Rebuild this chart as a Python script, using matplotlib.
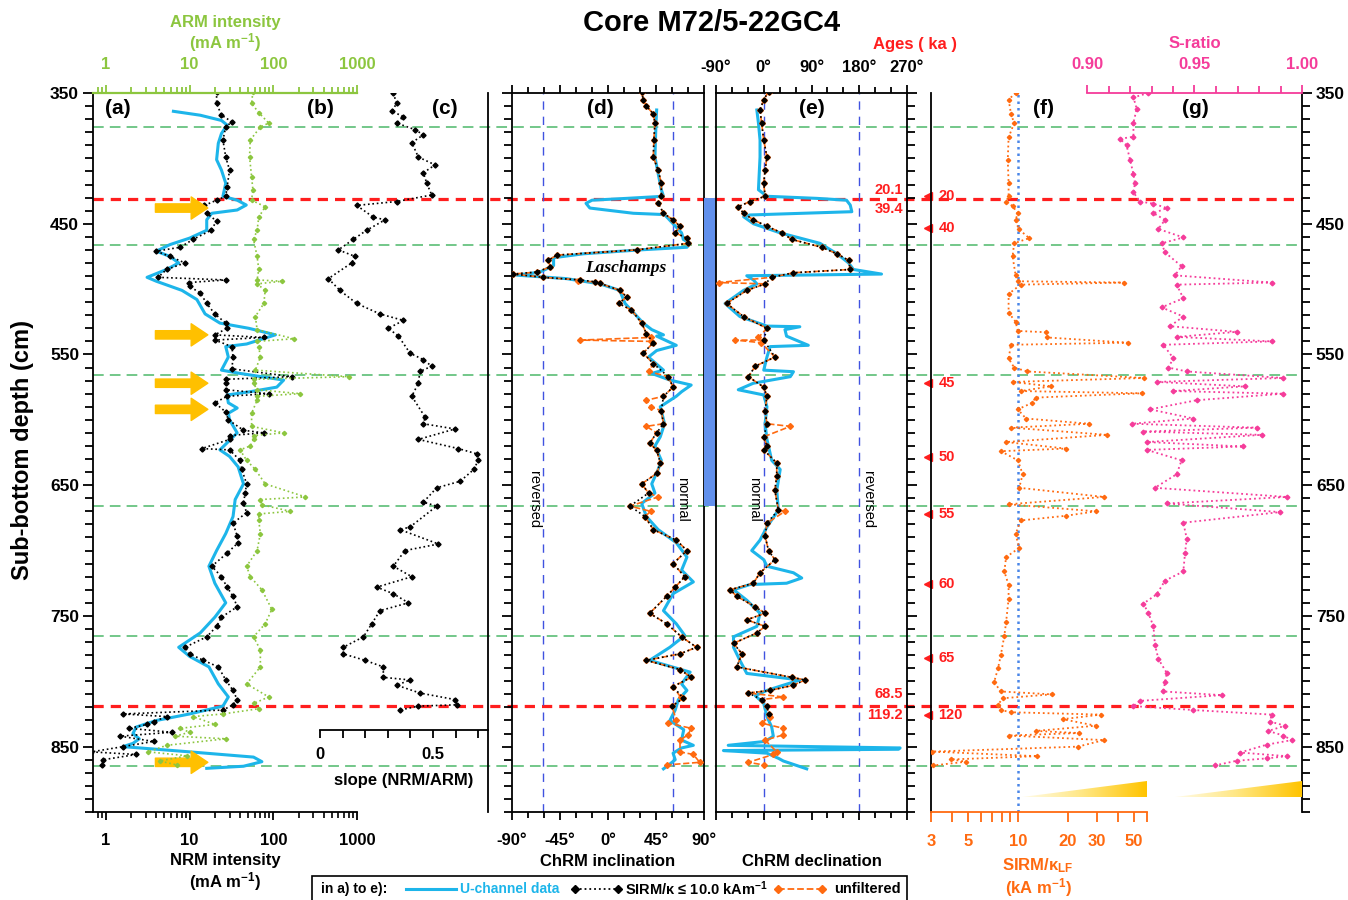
import numpy as np
import matplotlib
matplotlib.use('Agg')
import matplotlib.pyplot as plt
from matplotlib import transforms
from matplotlib.patches import Rectangle, Polygon
from matplotlib.lines import Line2D
from matplotlib.ticker import NullFormatter
from matplotlib.colors import LinearSegmentedColormap

plt.rcParams['font.family'] = ['Liberation Sans', 'DejaVu Sans']
plt.rcParams['font.weight'] = 'bold'
plt.rcParams['mathtext.fontset'] = 'custom'
plt.rcParams['mathtext.rm'] = 'Liberation Sans:bold'
plt.rcParams['mathtext.bf'] = 'Liberation Sans:bold'
plt.rcParams['mathtext.it'] = 'Liberation Sans:bold:italic'
plt.rcParams['mathtext.default'] = 'bf'

# ---- data (depth in cm) ----
# (a) NRM intensity, discrete samples (mA/m)
nrm_depth = [349, 358, 367, 372, 376, 386, 399, 409, 422, 429, 432, 436, 442, 448, 455, 462, 468, 471, 475, 480,
             485, 491, 493, 495, 498, 503, 511, 519, 526, 530, 535, 537, 539, 544, 552, 561, 567, 569, 572, 577,
             580, 582, 587, 594, 600, 608, 610, 612, 615, 622, 623, 631, 638, 649, 656, 664, 671, 679, 689, 694,
             702, 712, 720, 728, 735, 743, 751, 758, 766, 774, 779, 784, 789, 799, 807, 814, 818, 822, 825, 827,
             831, 833, 836, 839, 842, 846, 850, 854, 856, 860, 864]
nrm_val = [21, 21, 24, 32, 27, 25, 27, 30, 28, 27, 21, 15, 16, 21, 18, 11, 7.7, 4.0, 5.8, 8.8,
           5.3, 4.2, 27, 9.7, 10, 13.4, 16, 20, 27, 28, 20, 77, 20, 32, 33, 32, 167, 27, 27, 27,
           88, 28, 20, 27, 29, 44, 77, 30, 30, 14, 30, 40, 42, 48, 46, 44, 48, 33, 37, 38,
           28, 18.4, 24, 28, 33, 37, 24, 21, 16, 8.8, 10, 14.6, 22, 27, 33, 37, 33, 25, 1.6, 5.3,
           3.7, 3.1, 1.9, 6.1, 1.47, 3.7, 1.6, 0.67, 2.3, 0.93, 0.89]

# (a) NRM intensity, u-channel
uch_nrm_depth = [364, 367, 371, 374.5, 381, 388.5, 401, 409, 419, 429, 432, 435.7, 439.5, 442, 447, 455, 461, 466,
                 471, 475, 480, 485, 491, 494, 501, 508, 519, 526, 530, 535, 542, 544, 552, 562, 564.5, 569.6,
                 575, 578.5, 581, 587, 591, 595, 600, 610, 623, 628, 636, 649, 661, 674, 687, 700, 712, 725, 740,
                 751, 763, 774, 781, 789, 802, 812, 819, 825, 830, 835, 840, 844, 847.5, 850, 854, 858, 861.5,
                 865, 866.6]
uch_nrm = [6.4, 13.4, 24, 28, 24, 22, 21, 24, 27, 25, 37, 47.5, 37, 18.4, 16, 16, 10, 5.8,
           4.0, 5.8, 7.4, 5.3, 3.1, 4.0, 8.1, 12.2, 15.3, 23, 51, 106, 48, 27, 29, 24, 40, 133,
           110, 53, 28, 29, 37, 29, 30, 37, 23, 30, 38, 44, 35, 33, 27, 21, 17, 20, 27,
           20, 13.4, 7.4, 10, 17, 22, 29, 25, 10, 4, 2.3, 2.1, 2.5, 2.1, 1.6, 10, 58, 73,
           44, 16]

# (b) ARM intensity (mA/m)
arm_depth = [349, 358, 365, 373, 376, 386, 399, 414, 424, 432, 437, 445, 455, 462, 475, 485, 493, 494, 496, 501,
             511, 521, 531, 538, 540, 544, 552, 562, 567, 569, 572, 577, 580, 582, 585, 595, 605, 610, 612, 615,
             620, 623, 631, 638, 649, 659, 661, 665, 670, 672, 677, 687, 700, 712, 720, 730, 745, 756, 766, 776,
             789, 802, 812, 817, 821, 825, 827, 833, 836, 839, 842, 844, 849, 854, 857, 861, 864]
arm_val = [57, 55, 67, 88, 70, 53, 52, 55, 57, 55, 80, 67, 64, 58, 64, 67, 64, 127, 64, 80,
           77, 61, 64, 176, 64, 67, 70, 61, 800, 58, 58, 64, 210, 64, 64, 55, 55, 133, 58, 58,
           53, 40, 48, 61, 80, 242, 70, 73, 160, 67, 67, 70, 64, 48, 53, 73, 96, 80, 58, 70,
           70, 48, 88, 58, 67, 25, 11, 20, 7.7, 10, 6.7, 27, 5.3, 3.2, 9.3, 4.4, 7.0]

# (c) slope NRM/ARM
slope_depth = [350, 358, 364, 368, 373, 378, 382, 388, 399, 405, 411, 419, 428, 433, 436, 445, 447, 455, 462, 470,
               475, 480, 492, 501, 511, 519, 524, 530, 536, 549, 554, 559, 563, 572, 582, 598, 603, 607, 615, 622,
               626, 631, 638, 647, 652, 663, 666, 682, 684, 695, 700, 712, 720, 728, 733, 740, 746, 756, 766, 774,
               779, 784, 789, 797, 799, 803, 809, 814, 818, 819, 822]
slope_val = [0.324, 0.339, 0.317, 0.369, 0.339, 0.42, 0.457, 0.406, 0.435, 0.509, 0.457, 0.472, 0.494, 0.339,
             0.162, 0.236, 0.288, 0.206, 0.147, 0.081, 0.155, 0.14, 0.037, 0.088, 0.162, 0.265, 0.369, 0.302,
             0.347, 0.398, 0.457, 0.494, 0.442, 0.435, 0.406, 0.465, 0.457, 0.597, 0.435, 0.612, 0.693, 0.70,
             0.68, 0.62, 0.516, 0.457, 0.516, 0.398, 0.354, 0.524, 0.376, 0.324, 0.406, 0.251, 0.324, 0.391,
             0.265, 0.229, 0.192, 0.103, 0.103, 0.199, 0.28, 0.28, 0.398, 0.339, 0.442, 0.597, 0.605, 0.435,
             0.354]

# (d) ChRM inclination (deg), SIRM/k filtered discrete samples
inc_depth = [349, 355, 360, 366, 373, 386, 399, 409, 419, 429, 434, 442, 447, 452, 457, 461, 465, 470, 474, 478,
             483, 487, 488.5, 491, 493, 494.4, 495.6, 501, 506, 511, 516, 526, 534, 541, 549, 557, 567, 575, 582,
             593, 603, 610, 618, 623, 633, 641, 649, 656, 666, 674, 684, 692, 700, 710, 720, 728, 735, 748, 756,
             766, 774, 779, 784, 791, 797, 804, 813, 819]
inc_val = [31.6, 33, 36, 42.5, 44, 43, 42.5, 47, 50, 50, 47, 52, 61, 67.5, 63, 74, 75, 27, -48, -56,
           -54, -67, -89, -61, -26, -12, -7.5, 11, 17.5, 10, 22, 31.6, 36, 42.5, 33, 42.5, 56.5, 61, 52,
           50, 52, 45.6, 39, 45.6, 49, 45.6, 31.6, 38, 20.6, 34.7, 42.5, 64, 74, 61, 72, 63, 55, 39, 55,
           69, 83, 67.5, 36, 67.5, 78, 61, 70.6, 60]
# extra samples only present in the unfiltered set
inc_extra_depth = [494, 537, 539, 540, 563, 585, 590, 605, 659, 670, 812, 830, 832, 836, 841, 845, 854, 856, 862, 864]
inc_extra_val = [-28, 40, -26, 40, 38, 36, 40, 36, 47, 40, 68, 64, 56.6, 78, 75, 67.5, 67.5, 80, 86, 55]

uch_inc_depth = [363, 373, 399, 424, 429, 430.6, 432, 434.4, 438, 442, 443, 450, 457, 462, 465, 468, 470, 473,
                 476, 482, 487, 489.3, 492, 496, 501, 511, 526, 531, 535, 536, 543, 547, 552, 562, 564.5, 569.6,
                 573.4, 578.5, 582, 590, 603, 613, 620, 631, 638, 649, 656, 664, 674, 684, 694, 705, 715, 724,
                 733, 746, 756, 765, 774, 784, 793, 802, 807, 814, 822, 830, 837, 845, 849, 851, 855, 860, 864,
                 867]
uch_inc = [45.6, 45, 44, 50, 52, 17.5, -15, -20.6, -17, 23.7, 53, 61, 69, 70.6, 77, 74, 30, -23,
           -51, -51, -64, -86, -39, -7.5, 11, 16, 33, 41, 52, 45.6, 64, 45.6, 38, 52, 41, 58,
           78, 69, 64, 49, 53, 49, 44, 50, 47, 41, 44, 31.6, 36, 47, 64, 74, 69, 80,
           61, 52, 64, 72, 58, 39, 77, 69, 74, 66, 63, 58, 71, 69, 80, 69, 61, 63, 57,
           52]

# (e) ChRM declination (deg)
dec_depth = [349, 355, 363, 373, 386, 399, 409, 419, 429, 433, 437, 442, 447, 452, 457, 462, 468, 473, 478, 485,
             487.5, 491, 496, 501, 511, 521, 530, 539, 552, 559, 567, 575, 582, 593, 603, 613, 620, 623, 633, 643,
             654, 669, 679, 689, 700, 707, 717, 725, 730, 735, 743, 748, 753, 758, 763, 771, 779, 789, 797, 799,
             803, 807, 809, 814, 819, 825]
dec_val = [9, 0, -7, -4, 0, 6, 2.5, 0, 2.5, -26, -48, -38, -19.5, 6, 34, 53, 109, 138, 160, 163,
           56, 15, 2.5, -32, -70, -38, 6, 0, 21, -16, -29, 0, 6, 2.5, 6, 0, 6, 0, 24.5, 24.5,
           21, 27.6, 6, 2.5, 9, 21, -7, -19.5, -63, -51, -16, 2.5, -32, 2.5, -13, -57, -41, -51, 53, 78,
           56, 12, -29, -4, 6, 9]
dec_extra_depth = [495, 537, 539, 541, 605, 670, 812, 827, 832, 836, 841, 845, 854, 856, 862, 864]
dec_extra_val = [-85, -10, -54, -5, 50, 40, 37, 12, -4, 37, 37, 2.5, 24.5, 18, -29, 0]

uch_dec_depth = [363, 373, 386, 399, 424, 429, 430.6, 432, 435.7, 440.8, 443.3, 444.6, 450, 457, 465, 473, 480,
                 485, 488.5, 489.8, 493, 496, 501, 511, 521, 528.3, 528.8, 531, 536, 543, 544, 552, 562, 563.2,
                 567, 572, 577, 581, 590, 603, 615, 631, 638, 654, 669, 682, 692, 700, 707, 712, 717, 721, 725,
                 726, 730, 738, 748, 758, 766, 774, 784, 794, 799, 807, 811, 817, 827, 835, 842, 846, 849, 851,
                 852, 853, 855, 859, 861, 867]
uch_dec = [-13, -10, -7, -7, -10, 6, 100, 156, 163, 166, -26, -38, -19.5, 31, 106, 138, 160,
           169, 222, -32, -19.5, -13, -38, -73, -45, 6, 68, 40, 43, 84, 12, 6, 0, 56,
           50, -19.5, -48, 0, 6, 2.5, 6, 15, 31, 24.5, 27.6, 6, -7, -22.6, 0, 6, 56, 71.6, 43,
           -26, -57, -32, -7, -13, -57, -57, -45, -32, 68, 6, -16, 0, 6, 15, 18, 2.5, -67, 257,
           254, -76, 6, 28, 37, 81]

# (f) SIRM / kappa_LF (kA/m)
sirm_depth = [350, 355, 366, 373, 384, 401, 419, 429, 433, 436.5, 442, 447, 454, 461, 465, 475, 489.5, 494, 495,
              496.6, 503.7, 518, 525, 532, 533, 537, 541, 542.6, 553, 560, 563, 568, 571, 574.4, 578, 579.7, 583,
              587, 592, 599, 603, 606, 611.5, 617, 622, 624, 631, 641.6, 652, 659, 664.6, 670, 673.4, 677, 687.5,
              698, 705, 716, 726.4, 737, 754.7, 765, 780, 790, 800.7, 807.8, 810, 813, 818, 822, 823.7, 825.5,
              829, 834, 838, 839.6, 841.5, 845, 850, 853.8, 857.3, 859.8, 861.5, 864.4]
sirm_val = [9.7, 8.8, 9.1, 9.5, 8.8, 8.7, 8.8, 8.8, 8.5, 9.3, 10, 9.7, 10.1, 11.7, 9.5, 9.3, 9.7, 10, 43.7,
            10.4, 8.8, 8.8, 9.7, 10, 14.7, 15, 45.8, 9.1, 8.8, 9.5, 11.4, 57.8, 9.3, 15.8, 10.4, 56, 12.8,
            12.2, 10, 11.2, 26.9, 9.1, 34.6, 8.5, 19.5, 7.9, 10, 10.7, 10.2, 33, 8.8, 29.5, 19.5, 10.4, 9.7,
            10.2, 8.5, 8.3, 8.8, 8.8, 8.5, 8.3, 7.9, 7.6, 7.2, 7.9, 16, 8.1, 7.6, 7.9, 9.1, 31.7,
            18.6, 29.5, 12.8, 23.4, 8.8, 33, 23, 3.06, 13.1, 3.95, 4.9, 3.1]

# (g) S-ratio
sratio_depth = [350, 353.4, 362, 373, 383.5, 385, 390, 401, 412, 419, 426, 433, 434.7, 438, 442, 447, 454, 460.5,
                465, 472, 482.5, 489.5, 495, 496.6, 507, 514, 521, 528.4, 532.7, 536.6, 540, 542.6, 553, 560, 563,
                568, 571, 574.4, 578, 580, 585, 592, 599, 603, 606, 609, 611.5, 617, 620.4, 623, 631, 641.6, 652,
                659, 664, 670.6, 678.7, 691, 701.7, 716, 723, 733.5, 740.6, 747.6, 758, 772, 783, 793.6, 800.7,
                807.8, 810.6, 815, 819, 822, 825.5, 830.8, 834, 838, 841.5, 845, 848.5, 854.5, 857.3, 859,
                860.8, 864.4]
sratio_val = [0.9285, 0.9216, 0.9231, 0.9216, 0.9216, 0.9153, 0.9184, 0.920, 0.9216, 0.9223, 0.9216, 0.9246,
              0.9309, 0.9371, 0.9309, 0.9363, 0.9332, 0.9448, 0.9347, 0.9363, 0.944, 0.9409, 0.9859, 0.9417,
              0.9448, 0.9347, 0.9448, 0.9386, 0.9696, 0.9417, 0.9859, 0.9355, 0.9402, 0.9378, 0.9464, 0.9913,
              0.9324, 0.9735, 0.940, 0.9913, 0.951, 0.9293, 0.9495, 0.9208, 0.9789, 0.9262, 0.9812, 0.9278,
              0.9727, 0.9278, 0.944, 0.9417, 0.9316, 0.9929, 0.9371, 0.9898, 0.9448, 0.9464, 0.9456, 0.9448,
              0.9363, 0.9324, 0.9262, 0.9285, 0.9309, 0.9316, 0.9332, 0.9371, 0.9363, 0.9355, 0.9626, 0.9246,
              0.9216, 0.9495, 0.9859, 0.9851, 0.9921, 0.9843, 0.9913, 0.9952, 0.9836, 0.9712, 0.9929, 0.9836,
              0.9696, 0.9595]

# marker depths
green_lines = [376, 466, 566, 666, 765, 865]
red_lines = [431, 819]
arrow_depths = [438, 535, 572, 592, 862]
laschamps_span = (430, 666)
age_depths = [428.7, 453, 571.6, 628.5, 672, 725.7, 782.3, 826]
age_labels = ['20', '40', '45', '50', '55', '60', '65', '120']
tie_depths = [424.2, 438.8, 810, 825.8]
tie_labels = ['20.1', '39.4', '68.5', '119.2']

# ---- colours ----
C_BLUE = '#1DB5EA'
C_ARM = '#8CC63F'
C_ORANGE = '#FF6A10'
C_PINK = '#F53C9A'
C_RED = '#FF1E1E'
C_GREEN = '#4DB86A'
C_GUIDE = '#4052E0'
C_ARROW = '#FFC000'

W, H = 1348, 900
fig = plt.figure(figsize=(W / 100, H / 100), dpi=100)


def box(x0, x1, y0=93, y1=812):
    return [x0 / W, 1 - y1 / H, (x1 - x0) / W, (y1 - y0) / H]


def ftext(x, y, s, **kw):
    kw.setdefault('ha', 'center')
    kw.setdefault('va', 'center')
    return fig.text(x / W, 1 - y / H, s, **kw)


def depth_axis(ax, side=None, labels=False):
    ax.set_ylim(900, 350)
    ax.set_facecolor('none')
    ax.set_yticks(np.arange(350, 851, 100))
    ax.set_yticks(np.arange(350, 901, 10), minor=True)
    if side is None:
        ax.tick_params(axis='y', which='both', left=False, right=False,
                       labelleft=False, labelright=False)
    else:
        ax.yaxis.set_ticks_position(side)
        ax.tick_params(axis='y', which='major', length=7, width=1.3, direction='out',
                       labelsize=12.5, pad=3)
        ax.tick_params(axis='y', which='minor', length=5.5, width=1.3, direction='out')
        if not labels:
            ax.tick_params(axis='y', labelleft=False, labelright=False)
    for s in ax.spines.values():
        s.set_linewidth(1.3)


def series(ax, x, y, color, ls=':', ms=2.6, marker='D', lw=1.2, z=3):
    ax.plot(x, y, ls=ls, color=color, lw=lw, marker=marker, ms=ms, mec=color, mfc=color, zorder=z)


# background guide lines across all panels
ax_bg = fig.add_axes(box(93, 1302))
ax_bg.set_xlim(0, 1)
ax_bg.set_ylim(900, 350)
ax_bg.axis('off')
for d in green_lines:
    ax_bg.axhline(d, color=C_GREEN, lw=1.1, ls=(0, (7, 4)))
for d in red_lines:
    ax_bg.axhline(d, color=C_RED, lw=2.3, ls=(0, (3.2, 2.2)))

# ---- (a)/(b) NRM and ARM ----
ax_a = fig.add_axes(box(93, 357))
depth_axis(ax_a, 'left', labels=True)
ax_a.set_xscale('log')
ax_a.set_xlim(0.7, 1000)
ax_a.spines['right'].set_visible(False)
ax_a.spines['top'].set_visible(False)
ax_a.set_xticks([1, 10, 100, 1000], ['1', '10', '100', '1000'])
ax_a.set_xticks([0.8, 0.9] + [m * 10 ** e for e in range(0, 3) for m in range(2, 10)], minor=True)
ax_a.xaxis.set_minor_formatter(NullFormatter())
ax_a.tick_params(axis='x', which='major', length=6, width=1.3, labelsize=12, pad=9)
ax_a.tick_params(axis='x', which='minor', length=4, width=1.2)

ax_arm = ax_a.twiny()
ax_arm.set_xscale('log')
ax_arm.set_xlim(0.7, 1000)
for k in ['bottom', 'left', 'right']:
    ax_arm.spines[k].set_visible(False)
ax_arm.spines['top'].set_color(C_ARM)
ax_arm.spines['top'].set_linewidth(1.6)
ax_arm.set_xticks([1, 10, 100, 1000], ['1', '10', '100', '1000'])
ax_arm.set_xticks([0.8, 0.9] + [m * 10 ** e for e in range(0, 3) for m in range(2, 10)], minor=True)
ax_arm.xaxis.set_minor_formatter(NullFormatter())
ax_arm.tick_params(axis='x', which='both', colors=C_ARM, width=1.3)
ax_arm.tick_params(axis='x', which='major', length=6, labelsize=12, pad=9)
ax_arm.tick_params(axis='x', which='minor', length=4)

ax_a.plot(uch_nrm, uch_nrm_depth, color=C_BLUE, lw=2.2, zorder=2)
series(ax_a, nrm_val, nrm_depth, 'black')
series(ax_arm, arm_val, arm_depth, C_ARM, ms=2.2)
for d in arrow_depths:
    ax_a.annotate('', xy=(16.5, d), xytext=(3.9, d),
                  arrowprops=dict(arrowstyle='simple,head_length=0.6,head_width=0.8,tail_width=0.3',
                                  color=C_ARROW, mutation_scale=20, shrinkA=0, shrinkB=0), zorder=6)

# ---- (c) slope ----
ax_c = fig.add_axes(box(93, 488))
depth_axis(ax_c)
ax_c.set_xlim(-1.004, 0.743)
ax_c.spines['left'].set_visible(False)
ax_c.spines['top'].set_visible(False)
ax_c.spines['bottom'].set_position(('data', 837.4))
ax_c.spines['bottom'].set_bounds(0, 0.743)
ax_c.set_xticks([0, 0.5], ['0', '0.5'])
ax_c.set_xticks([0.1, 0.2, 0.3, 0.4, 0.6, 0.7], minor=True)
ax_c.tick_params(axis='x', which='both', length=6, width=1.3, labelsize=12, pad=6)
series(ax_c, slope_val, slope_depth, 'black')

# ---- (d) inclination ----
ax_d = fig.add_axes(box(512, 704))
depth_axis(ax_d, 'left')
ax_d.set_xlim(-90, 90)
ax_d.set_xticks([-90, -45, 0, 45, 90], ['-90°', '-45°', '0°', '45°', '90°'])
ax_d.set_xticks(np.arange(-75, 90, 15), minor=True)
ax_d.tick_params(axis='x', which='both', top=True, bottom=True, width=1.3)
ax_d.tick_params(axis='x', which='major', length=6, labelsize=12, pad=9)
ax_d.tick_params(axis='x', which='minor', length=4)
for v in (-61, 61):
    ax_d.axvline(v, color=C_GUIDE, lw=1.0, ls=(0, (6, 5)), zorder=1)

inc_all_d = np.concatenate([inc_depth, inc_extra_depth])
inc_all_v = np.concatenate([inc_val, inc_extra_val])
o = np.argsort(inc_all_d, kind='stable')
ax_d.plot(uch_inc, uch_inc_depth, color=C_BLUE, lw=2.2, zorder=2)
series(ax_d, inc_all_v[o], inc_all_d[o], C_ORANGE, ls='--', ms=3.0, z=3)
series(ax_d, inc_val, inc_depth, 'black', z=4)
ax_d.text(17, 484, 'Laschamps', family='Liberation Serif', style='italic', weight='bold',
          size=12.5, ha='center', va='center')
ax_d.text(-69, 661, 'reversed', rotation=270, weight='normal', size=10.5, ha='center', va='center')
ax_d.text(69, 661, 'normal', rotation=270, weight='normal', size=10.5, ha='center', va='center')

# blue bar between (d) and (e)
ax_gap = fig.add_axes(box(704, 716))
ax_gap.set_ylim(900, 350)
ax_gap.set_xlim(0, 1)
ax_gap.axis('off')
ax_gap.fill_betweenx(laschamps_span, 0, 1, color='#6190EC', lw=0)

# ---- (e) declination ----
ax_e = fig.add_axes(box(716, 907))
depth_axis(ax_e, 'right')
ax_e.set_xlim(-90, 270)
ax_e.set_xticks([-90, 0, 90, 180, 270], ['-90°', '0°', '90°', '180°', '270°'])
ax_e.set_xticks(np.arange(-60, 270, 30), minor=True)
ax_e.tick_params(axis='x', which='both', top=True, bottom=True, labeltop=True, labelbottom=False, width=1.3)
ax_e.tick_params(axis='x', which='major', length=6, labelsize=12, pad=7)
ax_e.tick_params(axis='x', which='minor', length=4)
for v in (0, 180):
    ax_e.axvline(v, color=C_GUIDE, lw=1.0, ls=(0, (6, 5)), zorder=1)

dec_all_d = np.concatenate([dec_depth, dec_extra_depth])
dec_all_v = np.concatenate([dec_val, dec_extra_val])
o = np.argsort(dec_all_d, kind='stable')
ax_e.plot(uch_dec, uch_dec_depth, color=C_BLUE, lw=2.2, zorder=2)
series(ax_e, dec_all_v[o], dec_all_d[o], C_ORANGE, ls='--', ms=3.0, z=3)
series(ax_e, dec_val, dec_depth, 'black', z=4)
ax_e.text(-18, 661, 'normal', rotation=270, weight='normal', size=10.5, ha='center', va='center')
ax_e.text(196, 661, 'reversed', rotation=270, weight='normal', size=10.5, ha='center', va='center')
bt = transforms.blended_transform_factory(ax_e.transAxes, ax_e.transData)
for d, s in zip(tie_depths, tie_labels):
    ax_e.text(0.98, d, s, transform=bt, color=C_RED, size=10.5, ha='right', va='center')

# ---- (f) SIRM/kappa ----
ax_f = fig.add_axes(box(931, 1147))
depth_axis(ax_f)
ax_f.set_xscale('log')
ax_f.set_xlim(3, 60)
ax_f.spines['top'].set_visible(False)
ax_f.spines['right'].set_visible(False)
ax_f.spines['bottom'].set_color(C_ORANGE)
ax_f.set_xticks([3, 5, 10, 20, 30, 50], ['3', '5', '10', '20', '30', '50'])
ax_f.set_xticks([4, 6, 7, 8, 9, 40, 60], minor=True)
ax_f.xaxis.set_minor_formatter(NullFormatter())
ax_f.tick_params(axis='x', which='both', colors=C_ORANGE, length=7, width=1.3)
ax_f.tick_params(axis='x', which='major', labelsize=12, pad=9)
ax_f.axvline(10, color='#4A86E8', lw=1.8, ls=(0, (1, 1.6)), zorder=1)
series(ax_f, sirm_val, sirm_depth, C_ORANGE, ms=2.2, lw=1.3)
bf = transforms.blended_transform_factory(ax_f.transAxes, ax_f.transData)
ax_f.plot([-0.014] * len(age_depths), age_depths, ls='none', marker='<', ms=6, color=C_RED,
          transform=bf, clip_on=False)
for d, s in zip(age_depths, age_labels):
    ax_f.text(0.035, d, s, transform=bf, color=C_RED, size=10.5, ha='left', va='center')

# ---- (g) S-ratio ----
ax_g = fig.add_axes(box(1087, 1302))
depth_axis(ax_g, 'right', labels=True)
ax_g.set_xlim(0.9, 1.0)
ax_g.spines['left'].set_visible(False)
ax_g.spines['bottom'].set_visible(False)
ax_g.spines['top'].set_color(C_PINK)
ax_g.xaxis.set_ticks_position('top')
ax_g.set_xticks([0.90, 0.95, 1.00], ['0.90', '0.95', '1.00'])
ax_g.set_xticks(np.arange(0.91, 1.0, 0.01), minor=True)
ax_g.tick_params(axis='x', which='both', colors=C_PINK, length=5, width=1.3)
ax_g.tick_params(axis='x', which='major', length=6, labelsize=12, pad=9)
series(ax_g, sratio_val, sratio_depth, C_PINK, ms=2.4, lw=1.3)

# gradient wedges
cmap = LinearSegmentedColormap.from_list('wedge', ['#FFFCEB', '#FFE680', '#FFC400'])
grad = np.linspace(0, 1, 256).reshape(1, -1)
for x0, x1 in ((1022, 1147), (1175, 1302)):
    wax = fig.add_axes(box(x0, x1, 781, 797))
    wax.axis('off')
    wax.set_xlim(0, 1)
    wax.set_ylim(0, 1)
    tri = Polygon([(0, 0), (1, 0), (1, 1)], closed=True, transform=wax.transData, fc='none', ec='none')
    wax.add_patch(tri)
    im = wax.imshow(grad, cmap=cmap, extent=[0, 1, 0, 1], aspect='auto')
    im.set_clip_path(tri)

# ---- texts ----
ftext(712, 23, 'Core M72/5-22GC4', size=21)
ftext(22, 450, 'Sub-bottom depth (cm)', size=17, rotation=90)
ftext(225, 23, 'ARM intensity', size=12, color=C_ARM)
ftext(225, 43, '(mA m$^{-1}$)', size=12, color=C_ARM)
ftext(915, 45, 'Ages ( ka )', size=12, color=C_RED)
ftext(1195, 44, 'S-ratio', size=12, color=C_PINK)
ftext(225, 861, 'NRM intensity', size=12)
ftext(225, 882, '(mA m$^{-1}$)', size=12)
ftext(404, 780, 'slope (NRM/ARM)', size=12)
ftext(608, 862, 'ChRM inclination', size=12)
ftext(812, 862, 'ChRM declination', size=12)
ftext(1038, 866, r'SIRM/$\kappa_{\rm LF}$', size=12, color=C_ORANGE)
ftext(1038, 888, '(kA m$^{-1}$)', size=12, color=C_ORANGE)
for x, s in ((118, '(a)'), (320, '(b)'), (445, '(c)'), (600, '(d)'),
             (812, '(e)'), (1043, '(f)'), (1195, '(g)')):
    ftext(x, 109, s, size=15)

# ---- legend ----
fig.add_artist(Rectangle((312 / W, -0.01), (907 - 312) / W, 0.01 + (900 - 876) / H,
                         transform=fig.transFigure, fill=False, ec='black', lw=1.2))
ly = 1 - 889 / H
ftext(321, 889, 'in a) to e):', size=10, ha='left')
fig.add_artist(Line2D([406 / W, 456 / W], [ly, ly], color=C_BLUE, lw=2.2, transform=fig.transFigure))
ftext(460, 889, 'U-channel data', size=10, ha='left', color=C_BLUE)
fig.add_artist(Line2D([575 / W, 618 / W], [ly, ly], color='black', lw=1.3, ls=':', marker='D', ms=4,
                      transform=fig.transFigure))
ftext(625, 889, 'SIRM/κ ≤ 10.0 kAm$^{-1}$', size=10.5, ha='left')
fig.add_artist(Line2D([778 / W, 822 / W], [ly, ly], color=C_ORANGE, lw=1.3, ls='--', marker='D', ms=4,
                      transform=fig.transFigure))
ftext(834, 889, 'unfiltered', size=10.5, ha='left')

fig.savefig('out.png', dpi=100)
